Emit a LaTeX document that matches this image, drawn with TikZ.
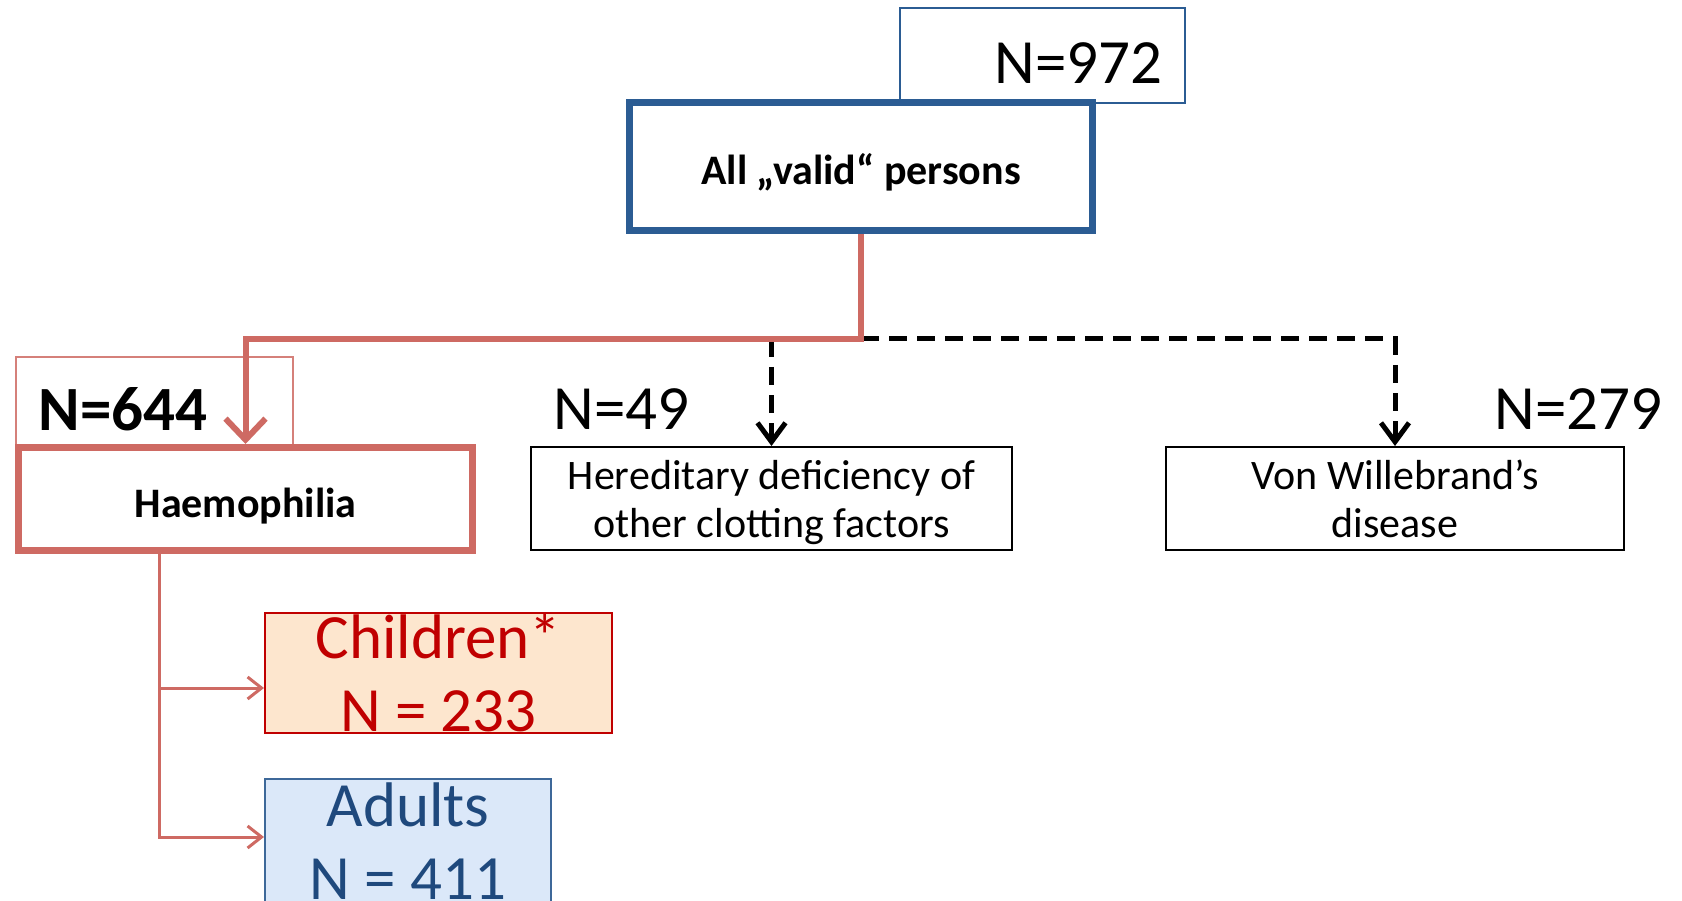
\documentclass[tikz,border=0pt]{standalone}
\usepackage{fontspec}
\setmainfont{Carlito}
\usetikzlibrary{arrows.meta}
\definecolor{boxblue}{HTML}{2B5C93}
\definecolor{linkred}{HTML}{CE6A63}
\definecolor{kidred}{HTML}{C00000}
\definecolor{kidfill}{HTML}{FDE6CE}
\definecolor{adultline}{HTML}{3D6899}
\definecolor{adulttext}{HTML}{1F497D}
\definecolor{adultfill}{HTML}{DBE8F9}

\begin{document}
\begin{tikzpicture}[x=1pt,y=-1pt,
        box/.style={draw,rectangle,inner sep=0pt},
        big/.style={font=\fontsize{63}{73}\selectfont},
        small/.style={font=\fontsize{42}{48}\selectfont,align=center,text depth=0pt},
        bold/.style={font=\fontsize{42}{48}\selectfont\bfseries,text height=37pt,text depth=0pt},
        redlink/.style={draw=linkred,line width=6pt,-{Straight Barb[length=21pt,width=40pt]}},
        dashlink/.style={draw=black,line width=5pt,dash pattern=on 18pt off 10pt,-{Straight Barb[length=19pt,width=28pt]}},
        thinlink/.style={draw=linkred,line width=3pt,-{Straight Barb[length=14pt,width=22pt]}}]
    \useasboundingbox (0,0) rectangle (1682,901);
    % top
    \node[box,draw=boxblue,line width=2pt,minimum width=285pt,minimum height=95pt] (n972box) at (1042.5,55.5) {};
    \node[big,anchor=east] (n972) at (1166,63) {N=972};
    \node[box,draw=boxblue,line width=7pt,minimum width=463pt,minimum height=128pt,bold] (valid) at (861,166.5) {All „valid“ persons};
    % second row
    \node[box,draw=linkred!85,line width=1.5pt,minimum width=277pt,minimum height=93pt] (n644box) at (154.5,403.5) {};
    \node[big,font=\fontsize{63}{73}\selectfont\bfseries,anchor=west] (n644) at (35,409) {N=644};
    \node[box,draw=linkred,line width=7pt,minimum width=454pt,minimum height=103pt,bold] (haemo) at (245.5,499) {Haemophilia};
    \node[big,anchor=west] (n49) at (550,409) {N=49};
    \node[box,line width=2pt,small,minimum width=481pt,minimum height=103pt] (hered) at (771.5,498.5) {Hereditary deficiency of\\other clotting factors};
    \node[big,anchor=east] (n279) at (1666,409) {N=279};
    \node[box,line width=2pt,small,minimum width=458pt,minimum height=103pt] (vwd) at (1395,498.5) {Von Willebrand’s\\disease};
    % haemophilia groups
    \node[box,draw=kidred,line width=2pt,fill=kidfill,text=kidred,big,align=center,minimum width=347pt,minimum height=120pt] (kids) at (438.5,673) {Children*\\N = 233};
    \node[box,draw=adultline,line width=2pt,fill=adultfill,text=adulttext,big,align=center,minimum width=286pt,minimum height=125pt] (adults) at (408,841.5) {Adults\\N = 411};
    % connectors
    \coordinate (fork) at (861,339);
    \draw[dashlink] (fork) -| (vwd.north);
    \draw[dashlink] (fork -| hered.north) -- (hered.north);
    \draw[redlink] (valid.south) -- (fork) -| (haemo.north);
    \coordinate (stem) at (159,554);
    \draw[thinlink] (stem) |- ([yshift=-15pt]kids.west);
    \draw[thinlink] (stem) |- ([yshift=4.5pt]adults.west);
\end{tikzpicture}
\end{document}
